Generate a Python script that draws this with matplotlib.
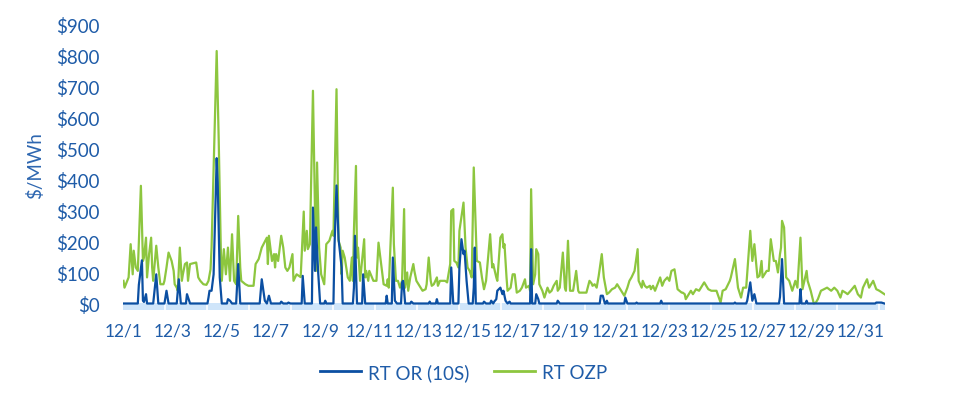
import matplotlib
matplotlib.use('Agg')
import matplotlib.pyplot as plt
from matplotlib.lines import Line2D

# ---------------- data (hours since 12/1 00:00, $/MWh) ----------------
ozp_hours = [0, 1, 5, 7, 9, 10, 12, 14, 17, 19, 20, 22, 23, 25, 27, 28, 29, 32, 34, 36, 39, 40, 42, 44, 47, 49, 50, 52, 53, 55,
             57, 58, 60, 62, 63, 65, 71, 73, 75, 78, 81, 83, 85, 86, 91, 93, 95, 96, 98, 100, 102, 104, 106, 108, 110, 112, 114, 115, 119, 122,
             127, 129, 132, 135, 140, 141, 142, 145, 147, 148, 149, 151, 154, 156, 158, 160, 162, 165, 166, 169, 173, 176, 177, 179, 180, 182, 185, 188, 189, 191,
             193, 196, 198, 201, 204, 205, 208, 210, 212, 213, 214, 216, 219, 221, 223, 224, 225, 227, 228, 229, 231, 235, 236, 237, 239, 240, 244, 247, 249, 252,
             254, 257, 258, 259, 263, 264, 266, 268, 270, 272, 274, 275, 277, 278, 280, 283, 284, 286, 288, 289, 292, 295, 296, 298, 300, 301, 303, 306, 307, 309,
             314, 316, 319, 320, 322, 323, 325, 327, 328, 332, 334, 336, 338, 340, 342, 345, 348, 350, 352, 354, 356, 358, 360, 361, 364, 365, 368, 370, 371, 372,
             374, 375, 378, 380, 382, 384, 387, 389, 392, 393, 396, 397, 398, 400, 402, 403, 405, 406, 409, 411, 413, 414, 416, 418, 420, 423, 424, 426, 429, 431,
             432, 434, 436, 439, 442, 444, 445, 452, 455, 457, 458, 460, 462, 464, 467, 469, 472, 474, 477, 480, 482, 486, 489, 492, 494, 496, 499, 502, 503, 506,
             507, 509, 511, 514, 515, 517, 519, 524, 526, 528, 531, 533, 535, 538, 541, 545, 546, 548, 549, 551, 554, 556, 559, 562, 567, 571, 574, 579, 583, 585,
             588, 592, 593, 597, 600, 603, 605, 608, 612, 614, 616, 619, 621, 623, 624, 628, 630, 632, 635, 637, 639, 641, 642, 643, 645, 647, 650, 653, 656, 658,
             661, 663, 667, 668, 671, 674, 676, 678, 681, 684, 687, 691, 694, 697, 700, 702, 705, 707, 710, 714, 717, 720, 722, 726, 728, 732, 735, 738, 743]
ozp_values = [73, 51, 84, 191, 94, 170, 116, 105, 379, 137, 148, 212, 84, 159, 212, 116, 73, 186, 116, 62, 62, 73, 116, 164, 137, 105, 62, 51, 41, 180,
              73, 94, 127, 132, 73, 127, 132, 84, 73, 62, 60, 73, 110, 180, 813, 524, 180, 73, 175, 94, 180, 73, 223, 73, 62, 282, 116, 73, 62, 57,
              57, 127, 143, 180, 212, 127, 218, 137, 159, 116, 159, 137, 218, 180, 116, 105, 116, 159, 73, 94, 85, 296, 170, 234, 175, 191, 685, 105, 454, 180,
              94, 62, 191, 202, 234, 218, 690, 202, 180, 94, 170, 148, 84, 73, 148, 73, 234, 443, 148, 180, 73, 207, 84, 105, 73, 105, 73, 73, 196, 116,
              62, 57, 78, 51, 373, 191, 73, 73, 51, 73, 304, 51, 100, 41, 84, 127, 105, 73, 62, 57, 41, 46, 62, 148, 73, 57, 62, 84, 57, 73,
              73, 68, 127, 298, 304, 137, 132, 116, 234, 325, 180, 116, 105, 84, 438, 137, 132, 84, 46, 73, 148, 223, 116, 127, 84, 73, 212, 223, 180, 191,
              84, 41, 51, 94, 94, 35, 41, 51, 78, 51, 57, 41, 368, 62, 94, 175, 159, 62, 41, 19, 41, 51, 35, 41, 57, 73, 41, 51, 164, 51,
              41, 202, 41, 41, 105, 41, 35, 35, 73, 65, 57, 62, 51, 89, 159, 84, 30, 35, 46, 51, 62, 41, 25, 51, 73, 84, 105, 175, 73, 51,
              73, 57, 51, 57, 46, 57, 41, 84, 57, 73, 84, 73, 105, 110, 46, 35, 35, 30, 14, 25, 41, 30, 46, 41, 68, 46, 41, 41, 3, 41,
              46, 73, 84, 143, 51, 19, 51, 51, 234, 137, 191, 84, 89, 137, 84, 105, 105, 207, 137, 137, 100, 159, 180, 266, 245, 84, 73, 41, 73, 51,
              212, 46, 105, 73, 41, 0, 3, 14, 41, 46, 51, 41, 51, 41, 19, 41, 35, 30, 41, 57, 30, 19, 51, 78, 51, 73, 46, 41, 30]

or_hours = [0, 14, 15, 18, 19, 20, 22, 23, 29, 31,
            32, 34, 40, 42, 44, 52, 54, 56, 61, 62,
            65, 82, 83, 84, 86, 88, 91, 92, 94, 96,
            101, 102, 104, 106, 110, 112, 114, 133, 135, 138,
            140, 142, 144, 153, 154, 156, 160, 161, 163, 174,
            175, 177, 184, 185, 187, 188, 190, 192, 196, 197,
            198, 205, 206, 208, 210, 213, 214, 224, 225, 226,
            228, 233, 234, 236, 256, 257, 258, 262, 263, 265,
            267, 271, 272, 273, 274, 275, 280, 281, 283, 298,
            299, 300, 305, 306, 307, 319, 320, 322, 327, 328,
            330, 332, 333, 335, 337, 341, 342, 343, 344, 351,
            352, 354, 358, 359, 361, 362, 364, 365, 368, 370,
            371, 373, 375, 377, 378, 397, 398, 399, 402, 403,
            405, 406, 423, 424, 426, 465, 466, 468, 470, 471,
            472, 473, 489, 490, 492, 500, 501, 502, 524, 525,
            526, 596, 597, 598, 608, 609, 612, 614, 616, 618,
            640, 641, 643, 645, 660, 661, 662, 666, 667, 668,
            734, 735, 740, 743]
or_values = [0, 0, 60, 139, 9, 5, 30, 0, 0, 62,
             94, 0, 0, 41, 0, 0, 78, 0, 0, 30,
             0, 0, 19, 41, 41, 94, 468, 390, 84, 0,
             0, 14, 9, 0, 0, 127, 0, 0, 78, 9,
             0, 25, 0, 0, 6, 0, 0, 3, 0, 0,
             89, 0, 0, 309, 105, 245, 105, 0, 0, 9,
             0, 0, 180, 380, 207, 116, 0, 0, 51, 218,
             0, 0, 94, 0, 0, 25, 0, 0, 148, 9,
             0, 0, 68, 73, 41, 0, 0, 6, 0, 0,
             6, 0, 0, 14, 0, 0, 116, 0, 0, 116,
             207, 159, 170, 73, 0, 0, 51, 180, 0, 0,
             6, 0, 0, 9, 0, 6, 14, 41, 51, 30,
             41, 9, 0, 6, 0, 0, 175, 0, 0, 30,
             14, 0, 0, 9, 0, 0, 25, 25, 0, 0,
             9, 0, 0, 19, 0, 0, 3, 0, 0, 9,
             0, 0, 3, 0, 0, 9, 68, 9, 30, 0,
             0, 21, 143, 0, 0, 46, 0, 0, 9, 0,
             0, 3, 3, 0]

x_tick_labels = ['12/1', '12/3', '12/5', '12/7', '12/9', '12/11', '12/13', '12/15',
                 '12/17', '12/19', '12/21', '12/23', '12/25', '12/27', '12/29', '12/31']
y_ticks = [0, 100, 200, 300, 400, 500, 600, 700, 800, 900]
series_names = ['RT OR (10S)', 'RT OZP']

# ---------------- style ----------------
plt.rcParams['font.family'] = ['Lato', 'DejaVu Sans']
TEXT = '#1f5ca8'
BLUE = '#0b4fa2'
GREEN = '#8dc63f'
BAND = '#cfe5fa'

fig = plt.figure(figsize=(9.55, 4.02), dpi=100)
ax = fig.add_axes([0.1293, 0.2271, 0.7979, 0.7107])

ax.set_xlim(0, 744)
ax.set_ylim(-20, 900)

# light-blue axis band with white separators
ax.axhspan(-20, 0, color=BAND, lw=0, zorder=1)
ax.vlines(list(range(41, 744, 41)), -20, 0, colors='white', lw=1.2, zorder=1.5)

ax.plot(ozp_hours, ozp_values, color=GREEN, lw=1.6, zorder=3, solid_joinstyle='round')
ax.plot(or_hours, or_values, color=BLUE, lw=1.6, zorder=4, solid_joinstyle='round')

ax.set_xticks(list(range(0, 744, 48)))
ax.set_xticklabels(x_tick_labels)
ax.set_yticks(y_ticks)
ax.set_yticklabels([r'\$%d' % v for v in y_ticks])
ax.tick_params(axis='both', length=0, colors=TEXT)
ax.tick_params(axis='x', pad=9, labelsize=12.5)
ax.tick_params(axis='y', pad=17, labelsize=13.5)
for s in ax.spines.values():
    s.set_visible(False)

fig.text(35 / 955, 1 - 166 / 402, r'\$/MWh', rotation=90, ha='center', va='center',
         fontsize=13.5, color='#2d66b0')

handles = [Line2D([], [], color=BLUE, lw=2), Line2D([], [], color=GREEN, lw=2)]
fig.legend(handles, series_names, loc='center', bbox_to_anchor=(463.5 / 955, 1 - 373 / 402),
           ncol=2, frameon=False, handlelength=2.2, handletextpad=0.35, columnspacing=1.35,
           fontsize=13.5, labelcolor=TEXT)

fig.savefig('out.png', dpi=100)
